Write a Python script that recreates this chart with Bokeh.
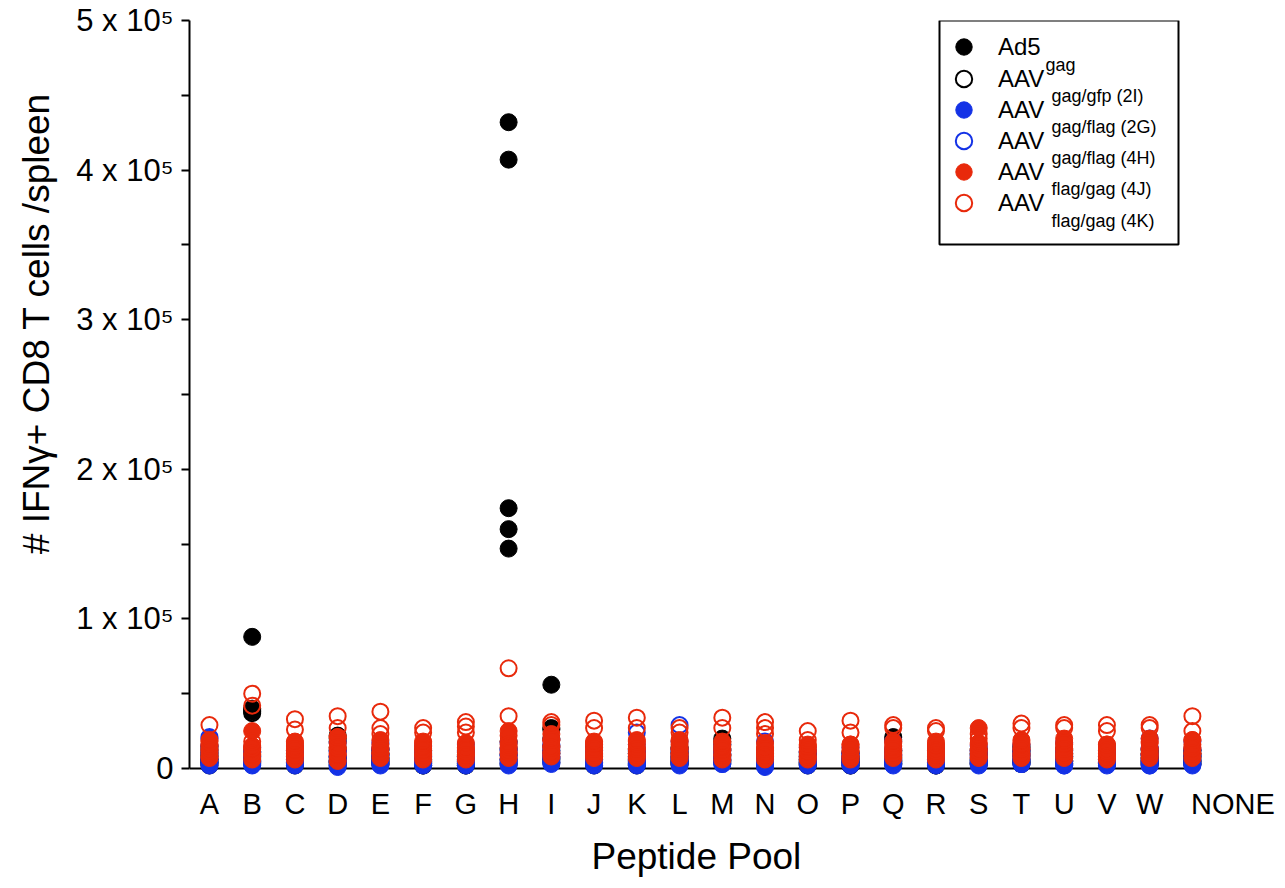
from bokeh.plotting import figure
from bokeh.models import (ColumnDataSource, Range1d, FixedTicker, Legend, LegendItem,
                          Label, BoxAnnotation, Title)
from bokeh.embed import file_html
from bokeh.resources import INLINE

FONT = "Liberation Sans"

categories = ["A", "B", "C", "D", "E", "F", "G", "H", "I", "J", "K", "L",
              "M", "N", "O", "P", "Q", "R", "S", "T", "U", "V", "W", "NONE"]

# values in thousands of IFNg+ CD8 T cells per spleen, 5 mice per group
ad5_gag = [
    [4, 6, 8, 11, 15], [5, 9, 38, 40, 88], [3, 5, 8, 10, 13], [4, 7, 12, 18, 22],
    [3, 5, 7, 10, 13], [2, 4, 6, 9, 12], [2, 3, 5, 8, 11], [147, 160, 174, 407, 432],
    [6, 10, 15, 27, 56], [3, 5, 8, 11, 14], [3, 5, 7, 10, 13], [3, 5, 8, 11, 14],
    [5, 8, 12, 16, 20], [3, 5, 7, 10, 12], [3, 4, 6, 9, 11], [2, 4, 6, 8, 11],
    [3, 5, 8, 12, 21], [2, 4, 6, 9, 12], [3, 5, 7, 10, 13], [4, 6, 9, 12, 15],
    [3, 5, 8, 10, 13], [3, 5, 7, 9, 12], [3, 5, 7, 10, 13], [3, 5, 8, 10, 12]]
aav_gag_gfp_2I = [
    [2, 4, 6, 9, 13], [4, 7, 11, 37, 39], [2, 4, 6, 9, 12], [2, 5, 8, 14, 20],
    [3, 5, 7, 9, 12], [2, 3, 5, 7, 10], [2, 3, 5, 7, 9], [3, 6, 9, 13, 18],
    [4, 7, 12, 20, 26], [2, 4, 6, 9, 12], [2, 4, 6, 8, 11], [3, 5, 7, 10, 13],
    [4, 6, 9, 13, 18], [2, 4, 6, 8, 11], [2, 3, 5, 7, 10], [2, 4, 5, 7, 10],
    [3, 5, 7, 11, 19], [2, 4, 6, 8, 10], [3, 4, 6, 9, 12], [3, 5, 8, 11, 14],
    [3, 5, 7, 9, 12], [3, 4, 6, 8, 11], [3, 5, 7, 9, 12], [3, 5, 7, 9, 12]]
aav_gag_flag_2G = [
    [2, 4, 7, 12, 20], [2, 3, 5, 8, 11], [2, 4, 6, 9, 12], [1, 3, 5, 8, 11],
    [2, 4, 6, 9, 13], [2, 3, 5, 8, 11], [2, 4, 6, 8, 12], [2, 4, 6, 9, 12],
    [3, 5, 8, 12, 16], [2, 4, 6, 9, 12], [2, 3, 5, 8, 12], [2, 4, 6, 9, 13],
    [3, 5, 7, 10, 13], [1, 3, 5, 8, 11], [2, 4, 6, 8, 11], [2, 3, 5, 8, 10],
    [2, 4, 6, 9, 12], [2, 4, 6, 8, 11], [2, 4, 6, 9, 12], [3, 5, 7, 10, 13],
    [2, 3, 5, 8, 11], [2, 4, 6, 8, 11], [2, 4, 6, 9, 13], [2, 3, 5, 8, 12]]
aav_gag_flag_4H = [
    [3, 6, 10, 15, 21], [3, 5, 8, 11, 14], [3, 5, 8, 11, 15], [2, 5, 8, 12, 17],
    [3, 6, 9, 13, 17], [3, 5, 8, 11, 15], [3, 5, 8, 11, 16], [3, 6, 9, 13, 17],
    [4, 7, 10, 14, 19], [3, 6, 9, 12, 16], [3, 6, 10, 16, 24], [4, 7, 11, 18, 29],
    [3, 6, 9, 12, 16], [2, 5, 8, 12, 18], [3, 5, 8, 11, 14], [3, 5, 7, 10, 14],
    [3, 6, 9, 13, 18], [3, 5, 8, 11, 15], [3, 5, 8, 11, 15], [3, 6, 9, 12, 16],
    [2, 5, 8, 12, 17], [3, 5, 8, 11, 15], [2, 5, 9, 14, 20], [3, 6, 9, 13, 18]]
aav_flag_gag_4J = [
    [7, 10, 13, 16, 19], [6, 9, 13, 15, 25], [6, 9, 12, 15, 18], [5, 9, 13, 17, 21],
    [7, 10, 13, 16, 19], [6, 9, 12, 15, 18], [6, 9, 11, 14, 17], [7, 10, 14, 18, 25],
    [8, 11, 15, 19, 23], [7, 10, 13, 16, 18], [7, 10, 13, 16, 19], [7, 10, 13, 16, 19],
    [6, 9, 12, 15, 18], [6, 9, 11, 14, 17], [6, 8, 11, 14, 16], [6, 8, 11, 14, 16],
    [7, 10, 12, 15, 18], [6, 9, 12, 15, 18], [7, 10, 13, 17, 27], [7, 10, 13, 16, 19],
    [7, 10, 13, 16, 20], [6, 8, 10, 13, 16], [7, 10, 13, 17, 20], [7, 10, 13, 16, 19]]
aav_flag_gag_4K = [
    [8, 12, 15, 18, 29], [10, 14, 18, 42, 50], [9, 13, 17, 26, 33], [10, 14, 21, 27, 35],
    [10, 14, 23, 27, 38], [9, 13, 17, 24, 27], [9, 13, 24, 28, 31], [11, 16, 22, 35, 67],
    [10, 14, 19, 29, 31], [9, 13, 17, 27, 32], [9, 13, 18, 27, 34], [9, 13, 18, 24, 27],
    [9, 13, 17, 27, 34], [9, 13, 23, 27, 31], [8, 12, 15, 19, 25], [8, 12, 16, 24, 32],
    [9, 13, 17, 27, 29], [9, 12, 16, 25, 27], [8, 12, 16, 20, 23], [9, 13, 17, 27, 30],
    [9, 13, 17, 27, 29], [8, 12, 16, 25, 29], [9, 13, 18, 27, 29], [10, 14, 19, 25, 35]]

group_main = ["Ad5", "AAV", "AAV", "AAV", "AAV", "AAV"]
group_sub = ["gag", "gag/gfp (2I)", "gag/flag (2G)", "gag/flag (4H)",
             "flag/gag (4J)", "flag/gag (4K)"]
group_data = [ad5_gag, aav_gag_gfp_2I, aav_gag_flag_2G, aav_gag_flag_4H,
              aav_flag_gag_4J, aav_flag_gag_4K]

y_ticks = [0, 100000, 200000, 300000, 400000, 500000]
y_tick_labels = ["0", "1 x 10\u2075", "2 x 10\u2075", "3 x 10\u2075",
                 "4 x 10\u2075", "5 x 10\u2075"]
y_minor = [50000, 150000, 250000, 350000, 450000]
y_title = "# IFN\u03b3+ CD8 T cells /spleen"
x_title = "Peptide Pool"

BLACK = "#000000"
BLUE = "#1432e6"
RED = "#e8290b"
styles = [(BLACK, True), (BLACK, False), (BLUE, True), (BLUE, False),
          (RED, True), (RED, False)]

W, H = 1285, 888
B_LEFT, B_RIGHT, B_TOP, B_BOTTOM = 188, 29, 20, 111
p = figure(width=W, height=H, output_backend="svg", toolbar_location=None,
           x_range=Range1d(-0.467, 24.5), y_range=Range1d(-6016, 500000),
           min_border_left=B_LEFT, min_border_right=B_RIGHT, min_border_top=B_TOP,
           min_border_bottom=B_BOTTOM)
p.outline_line_color = None
p.xgrid.visible = False
p.ygrid.visible = False
p.background_fill_color = "white"
p.border_fill_color = "white"

# x-axis baseline at y = 0 (axis stops just short of the last pool)
p.add_layout(BoxAnnotation(bottom=0, top=0, right=22.85, fill_alpha=0,
                           line_color="black", line_alpha=1, line_width=2,
                           level="underlay"))

renderers = []
for vals, (col, filled) in zip(group_data, styles):
    xs, ys = [], []
    for i, v in enumerate(vals):
        for k in v:
            xs.append(i)
            ys.append(k * 1000)
    src = ColumnDataSource(dict(x=xs, y=ys))
    if filled:
        r = p.scatter("x", "y", source=src, size=17, fill_color=col,
                      line_color=col, line_width=1)
    else:
        r = p.scatter("x", "y", source=src, size=16, fill_color=None,
                      line_color=col, line_width=2)
    renderers.append(r)

# x axis (the NONE label sits to the right of its column, as in the original)
tick_pos = list(range(len(categories) - 1)) + [len(categories) - 1 + 0.95]
xa = p.xaxis[0]
xa.ticker = FixedTicker(ticks=tick_pos)
xa.major_label_overrides = {float(t): c for t, c in zip(tick_pos, categories)}
xa.axis_line_color = None
xa.major_tick_line_color = None
xa.minor_tick_line_color = None
xa.major_tick_out = 0
xa.major_tick_in = 0
xa.minor_tick_out = 0
xa.minor_tick_in = 0
xa.major_label_text_font = FONT
xa.major_label_text_font_size = "29px"
xa.major_label_text_color = "black"
xa.major_label_standoff = 10

p.add_layout(Title(text=x_title, align="left", offset=590 - B_LEFT,
                   vertical_align="bottom", standoff=22, text_font=FONT,
                   text_font_size="37px", text_font_style="normal",
                   text_color="black"), "below")

# y axis
ya = p.yaxis[0]
ya.bounds = (0, 500000)
ya.ticker = FixedTicker(ticks=y_ticks, minor_ticks=y_minor)
ya.major_label_overrides = {float(t): l for t, l in zip(y_ticks, y_tick_labels)}
ya.axis_line_width = 2
ya.axis_line_color = "black"
ya.major_tick_line_width = 2
ya.minor_tick_line_width = 2
ya.major_tick_in = 0
ya.major_tick_out = 8
ya.minor_tick_in = 0
ya.minor_tick_out = 8
ya.major_label_text_font = FONT
ya.major_label_text_font_size = "31px"
ya.major_label_text_color = "black"
ya.major_label_standoff = 8

p.add_layout(Title(text=y_title, align="right", offset=72, vertical_align="top",
                   standoff=30, text_font=FONT, text_font_size="37px",
                   text_font_style="normal", text_color="black"), "left")

frame_bottom = H - B_BOTTOM

# legend: one row per group, main label from the legend, subscript beside it
leg_left = 942
row0 = 47
pitch = 31.2
glyph = 41
for i, (m, s, r) in enumerate(zip(group_main, group_sub, renderers)):
    center = row0 + i * pitch
    lg = Legend(items=[LegendItem(label=m, renderers=[r])],
                location=(leg_left - B_LEFT, int(round(frame_bottom - center - glyph / 2))),
                glyph_width=glyph, glyph_height=glyph, padding=0, margin=0,
                border_line_color=None, background_fill_alpha=0, label_standoff=14,
                label_text_font=FONT, label_text_font_size="24px",
                label_text_color="black")
    p.add_layout(lg)
    sx = 1044 if m == "Ad5" else 1050
    p.add_layout(Label(x=sx - B_LEFT, y=frame_bottom - (center + 17),
                       x_units="screen", y_units="screen",
                       text=s, text_font=FONT, text_font_size="18px",
                       text_baseline="alphabetic", text_color="black"))

p.add_layout(BoxAnnotation(left=938 - B_LEFT, right=1177 - B_LEFT,
                           top=frame_bottom - 20, bottom=frame_bottom - 244,
                           left_units="screen", right_units="screen",
                           top_units="screen", bottom_units="screen",
                           fill_alpha=0, fill_color=None, line_color="black",
                           line_alpha=1, line_width=2))

open("out.html", "w").write(file_html(p, INLINE))
